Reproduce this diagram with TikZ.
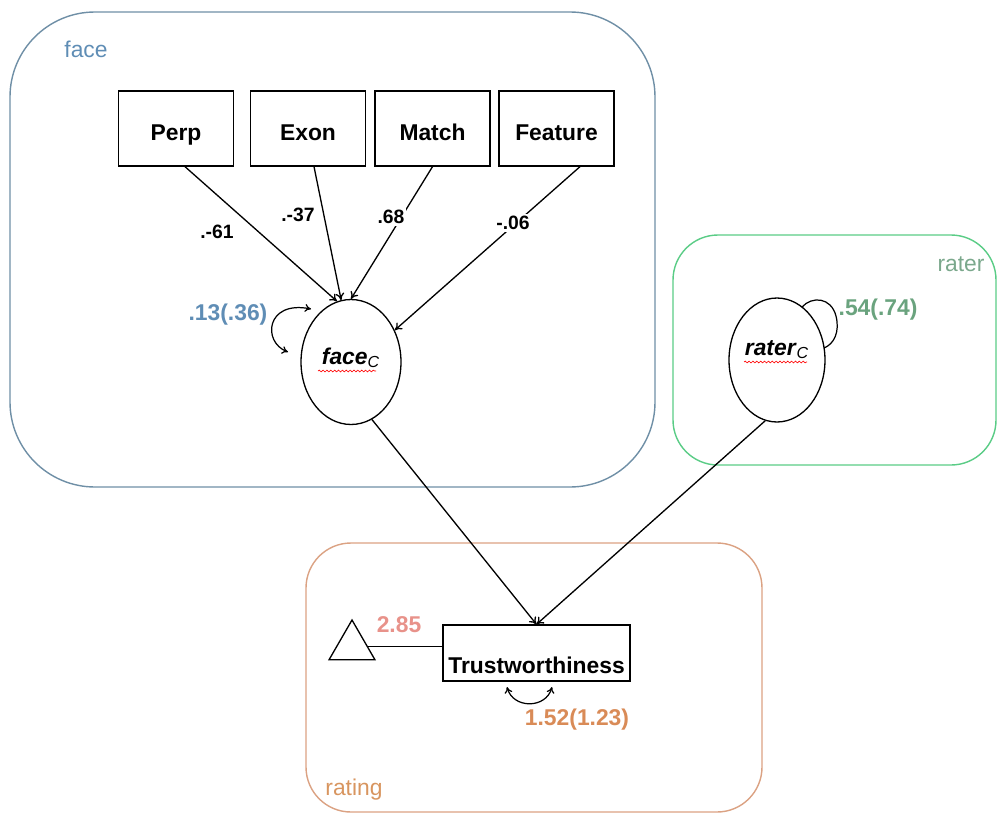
\documentclass[tikz,border=0pt]{standalone}
\usepackage{fontspec}
\setmainfont{Liberation Sans}
\usetikzlibrary{arrows.meta,shapes.geometric,decorations.pathmorphing,calc}

\definecolor{facegrp}{HTML}{6F8FA6}
\definecolor{facetxt}{HTML}{5F8DB5}
\definecolor{ratergrp}{HTML}{5ACC86}
\definecolor{ratertxt}{HTML}{7BA88C}
\definecolor{raterval}{HTML}{6AA37E}
\definecolor{ratinggrp}{HTML}{DBA283}
\definecolor{ratingtxt}{HTML}{D8955F}
\definecolor{ratingval}{HTML}{D98B57}
\definecolor{interval}{HTML}{E8928A}

\begin{document}
\begin{tikzpicture}[x=0.02cm,y=-0.02cm,
  every node/.style={font=\fontsize{13}{15}\selectfont},
  group/.style={rounded corners=#1, line width=0.8pt},
  ind/.style={draw, line width=0.75pt, minimum width=2.3cm, minimum height=1.5cm,
              text height=0.46cm, text depth=0pt,
              inner sep=0pt, font=\fontsize{13}{15}\selectfont\bfseries},
  latent/.style={draw, ellipse, line width=0.75pt, inner sep=0pt},
  arr/.style={-{To[length=4pt,width=5pt]}, line width=0.75pt},
  biarr/.style={{To[length=3.5pt,width=4.5pt]}-{To[length=3.5pt,width=4.5pt]}, line width=0.7pt},
  load/.style={font=\fontsize{11}{13}\selectfont\bfseries, fill=white, inner sep=1pt},
  val/.style={font=\fontsize{13}{15}\selectfont\bfseries, inner sep=1pt},
  spell/.style={red, line width=0.35pt, decorate,
                decoration={snake, amplitude=0.5pt, segment length=2.2pt}}
]
\useasboundingbox (0,0) rectangle (997,815);

% grouping frames
\draw[group=1.7cm, facegrp] (10,12) rectangle (655,487);
\draw[group=0.9cm, ratergrp] (673,235) rectangle (996,465);
\draw[group=0.9cm, ratinggrp] (306,543) rectangle (762,812);

\node[facetxt] (facelbl) at (86,49) {face};
\node[ratertxt] (raterlbl) at (961,264) {rater};
\node[ratingtxt] (ratinglbl) at (354,790) {rating};

% indicators
\node[ind] (perp) at (176,128.5) {Perp};
\node[ind] (exon) at (308,128.5) {Exon};
\node[ind] (match) at (432.5,128.5) {Match};
\node[ind] (feature) at (556.5,128.5) {Feature};

% latent variables
\node[latent, minimum width=2.0cm, minimum height=2.5cm,
      text height=0.3cm, text depth=0.22cm] (face) at (351,362)
  {\textbf{\textit{face}}\textsubscript{\mdseries\itshape C}};
\node[latent, minimum width=1.92cm, minimum height=2.48cm,
      text height=0.3cm, text depth=0.5cm] (rater) at (777,360)
  {\textbf{\textit{rater}}\textsubscript{\mdseries\itshape C}};

% outcome and intercept
\node[draw, line width=0.75pt, minimum width=3.74cm, minimum height=1.12cm,
      text height=0.8cm, text depth=0pt, inner sep=0pt,
      font=\fontsize{13}{15}\selectfont\bfseries] (trust) at (536.5,653) {Trustworthiness};
\node[draw, regular polygon, regular polygon sides=3, minimum size=1.06cm,
      inner sep=0pt, line width=0.75pt] (tri) at (352,646.5) {};

% spell-check underlines
\draw[spell] (318,371) -- (376,371);
\draw[spell] (744,362) -- (807,362);

% loadings
\draw[arr] ([xshift=0.18cm]perp.south) -- (face.103.5);
\draw[arr] ([xshift=0.12cm]exon.south) -- (face.99);
\draw[arr] (match.south) -- (face.90);
\draw[arr] ([xshift=0.47cm]feature.south) -- (face.36.5);

\node[load] (l1) at (217,232) {.-61};
\node[load] (l2) at (298,215) {.-37};
\node[load] (l3) at (391,217) {.68};
\node[load] (l4) at (513,223) {-.06};

% paths to the outcome
\draw[arr] (face.-70) -- (trust.north);
\draw[arr] (rater.-101) -- (trust.north);
\draw[line width=0.75pt] (tri.east) -- (tri.east -| trust.west);

% variances
\draw[biarr] (288,352) .. controls (262,342) and (266,300) .. (311,309);
\node[val, facetxt] (vface) at (228,315) {.13(.36)};

\draw[line width=0.7pt] (802,307) .. controls (812,296) and (831,297) .. (836,316)
  .. controls (840,332) and (834,344) .. (824,348);
\node[val, raterval] (vrater) at (878,310) {.54(.74)};

\draw[biarr] (507,687) .. controls (513,709) and (546,709) .. (552,687);
\node[val, ratingval] (vtrust) at (577,720) {1.52(1.23)};

\node[val, interval] (icpt) at (399,625) {2.85};
\end{tikzpicture}
\end{document}
